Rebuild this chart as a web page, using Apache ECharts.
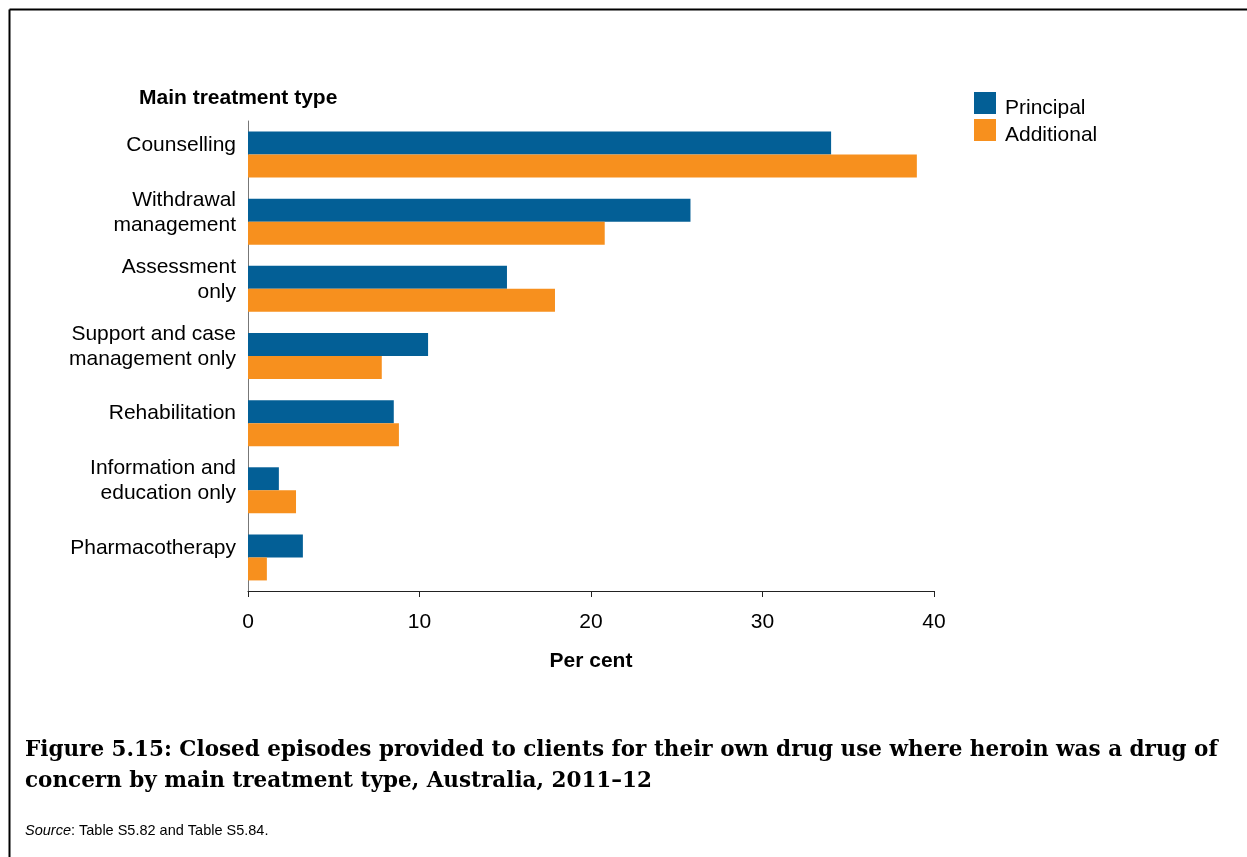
<!DOCTYPE html>
<html>
<head>
<meta charset="utf-8">
<script src="https://cdn.jsdelivr.net/npm/echarts@6/dist/echarts.min.js"></script>
<style>
html,body{margin:0;padding:0;background:#fff;}
#chart{width:1247px;height:857px;}
</style>
</head>
<body>
<div id="chart"></div>
<script>
const categories = ['Counselling', 'Withdrawal\nmanagement', 'Assessment\nonly', 'Support and case\nmanagement only', 'Rehabilitation', 'Information and\neducation only', 'Pharmacotherapy'];
const principal = [34.0, 25.8, 15.1, 10.5, 8.5, 1.8, 3.2];
const additional = [39.0, 20.8, 17.9, 7.8, 8.8, 2.8, 1.1];
const xTicks = [0, 10, 20, 30, 40];
const seriesNames = ['Principal', 'Additional'];

const chart = echarts.init(document.getElementById('chart'), null, {renderer: 'canvas'});
const sans = 'Arial, "Liberation Sans", Helvetica, sans-serif';
const serif = '"DejaVu Serif", serif';

chart.setOption({
  animation: false,
  backgroundColor: '#fff',
  grid: [
    {left: 248, top: 121, width: 686, height: 470, containLabel: false},
    {left: 248, top: 111.5, width: 686, height: 470, containLabel: false}
  ],
  legend: {
    data: seriesNames,
    orient: 'vertical',
    left: 974, top: 87.5, padding: 0,
    itemWidth: 22, itemHeight: 22, itemGap: -4,
    icon: 'rect',
    formatter: n => '{t|' + n + '}',
    textStyle: {fontFamily: sans, fontSize: 21, color: '#000',
      rich: {t: {fontFamily: sans, fontSize: 21, color: '#000', lineHeight: 14, padding: [10, 0, 0, 4]}}}
  },
  xAxis: [{
    type: 'value', min: 0, max: 40, interval: 10, gridIndex: 0,
    name: 'Per cent', nameLocation: 'middle', nameGap: 60,
    nameTextStyle: {fontFamily: sans, fontSize: 21, fontWeight: 'bold', color: '#000'},
    axisLine: {show: true, lineStyle: {color: '#222', width: 1}},
    axisTick: {show: true, length: 6, lineStyle: {color: '#222'}},
    axisLabel: {fontFamily: sans, fontSize: 21, color: '#000', margin: 21,
      formatter: v => xTicks.includes(v) ? String(v) : ''},
    splitLine: {show: false}
  }, {
    type: 'value', min: 0, max: 40, interval: 10, gridIndex: 1, show: false
  }],
  yAxis: [{
    type: 'category', data: categories, inverse: true, gridIndex: 0,
    axisLine: {show: true, lineStyle: {color: '#777', width: 1}},
    axisTick: {show: false},
    axisLabel: {show: false}
  }, {
    type: 'category', data: categories, inverse: true, gridIndex: 1,
    axisLine: {show: false},
    axisTick: {show: false},
    axisLabel: {fontFamily: sans, fontSize: 21, color: '#000', margin: 12, lineHeight: 25, align: 'right'}
  }],
  series: [
    {name: seriesNames[0], type: 'bar', data: principal, itemStyle: {color: '#035F96'},
     xAxisIndex: 0, yAxisIndex: 0, barWidth: 23, barGap: '0%', barCategoryGap: '31%'},
    {name: seriesNames[1], type: 'bar', data: additional, itemStyle: {color: '#F7901E'},
     xAxisIndex: 0, yAxisIndex: 0, barWidth: 23, barGap: '0%', barCategoryGap: '31%'}
  ],
  graphic: [
    {type: 'line', shape: {x1: 9.5, y1: 9.5, x2: 1247, y2: 9.5}, style: {stroke: '#000', lineWidth: 2}},
    {type: 'line', shape: {x1: 9.5, y1: 9.5, x2: 9.5, y2: 857}, style: {stroke: '#000', lineWidth: 2}},
    {type: 'text', left: 139, top: 88, style: {text: 'Main treatment type', font: 'bold 21px ' + sans, fill: '#000'}},
    {type: 'text', left: 25, top: 735, style: {
      text: 'Figure 5.15: Closed episodes provided to clients for their own drug use where heroin was a drug of\nconcern by main treatment type, Australia, 2011\u201312',
      font: 'bold 21.5px ' + serif, fill: '#000', lineHeight: 31}},
    {type: 'text', left: 25, top: 823, style: {
      text: '{i|Source}: Table S5.82 and Table S5.84.',
      font: '14.5px ' + sans, fill: '#000',
      rich: {i: {fontStyle: 'italic', fontFamily: sans, fontSize: 14.5, fill: '#000'}}}}
  ]
});
</script>
</body>
</html>
